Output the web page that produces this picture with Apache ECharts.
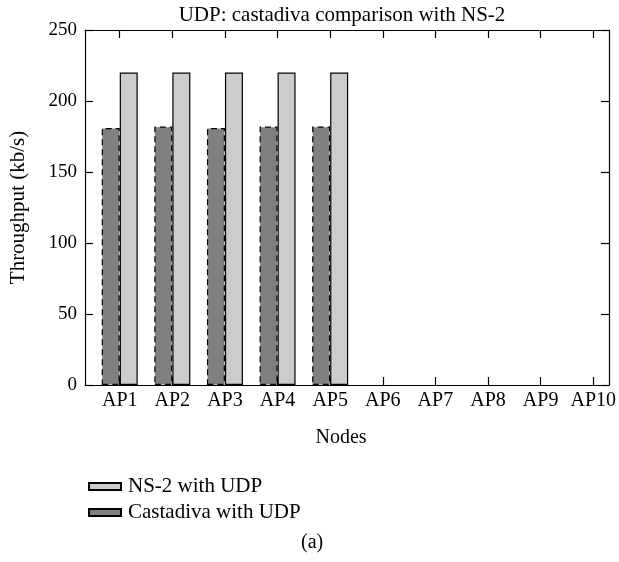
<!DOCTYPE html>
<html>
<head>
<meta charset="utf-8">
<script src="https://cdn.jsdelivr.net/npm/echarts@6/dist/echarts.min.js"></script>
<style>html,body{margin:0;padding:0;background:#fff;}#c{width:619px;height:562px;}</style>
</head>
<body>
<div id="c"></div>
<script>
var categories = ['AP1','AP2','AP3','AP4','AP5','AP6','AP7','AP8','AP9','AP10'];
var castadivaUDP = [181, 182, 181, 182, 182, null, null, null, null, null];
var ns2UDP = [220, 220, 220, 220, 220, null, null, null, null, null];
var yTicks = [0, 50, 100, 150, 200, 250];

var FONT = '"Liberation Serif", "DejaVu Serif", serif';
var positions = categories.map(function(c, i){ return i; });

function xAx(pos, showLabel){
  return {
    type: 'value', position: pos, min: -0.66, max: 9.3,
    axisLine: {show: true, onZero: false, lineStyle: {color: '#000', width: 1.2}},
    axisTick: {show: true, inside: true, length: 8, customValues: positions, lineStyle: {color: '#000', width: 1.2}},
    axisLabel: {show: showLabel, customValues: positions, color: '#000', fontFamily: FONT, fontSize: 20, margin: 6,
      formatter: function(v){ return categories[Math.round(v)]; }},
    splitLine: {show: false},
    name: showLabel ? 'Nodes' : '', nameLocation: 'middle', nameGap: 43,
    nameTextStyle: {color: '#000', fontFamily: FONT, fontSize: 20, padding: [0, 12, 0, 0]}
  };
}
function yAx(pos, showLabel){
  return {
    type: 'value', position: pos, min: yTicks[0], max: yTicks[yTicks.length-1], interval: 50,
    axisLine: {show: true, onZero: false, lineStyle: {color: '#000', width: 1.2}},
    axisTick: {show: true, inside: true, length: 8, lineStyle: {color: '#000', width: 1.2}},
    axisLabel: {show: showLabel, color: '#000', fontFamily: FONT, fontSize: 19, margin: 8},
    splitLine: {show: false},
    name: showLabel ? 'Throughput (kb/s)' : '', nameLocation: 'middle', nameGap: 56,
    nameTextStyle: {color: '#000', fontFamily: FONT, fontSize: 21}
  };
}

var chart = echarts.init(document.getElementById('c'), null, {renderer: 'canvas'});
chart.setOption({
  animation: false,
  backgroundColor: '#fff',
  title: {text: 'UDP: castadiva comparison with NS-2', left: 337, top: 0, textAlign: 'center',
    textStyle: {color: '#000', fontFamily: FONT, fontSize: 21, fontWeight: 'normal'}},
  grid: {left: 85, right: 6, top: 30, bottom: 177, containLabel: false},
  xAxis: [xAx('bottom', true), xAx('top', false)],
  yAxis: [yAx('left', true), yAx('right', false)],
  legend: {
    orient: 'vertical', left: 83, top: 471, itemWidth: 32, itemHeight: 7, itemGap: 5,
    icon: 'rect',
    data: ['NS-2 with UDP', 'Castadiva with UDP'],
    textStyle: {color: '#000', fontFamily: FONT, fontSize: 21, padding: [0,0,0,2]}
  },
  series: [
    {name: 'Castadiva with UDP', type: 'bar', xAxisIndex: 0, yAxisIndex: 0, barWidth: 18, barGap: '0%',
      data: positions.map(function(p, i){ return [p, castadivaUDP[i]]; }),
      itemStyle: {color: '#808080', borderColor: '#000', borderWidth: 1.2, borderType: [6, 4]}},
    {name: 'NS-2 with UDP', type: 'bar', xAxisIndex: 0, yAxisIndex: 0, barWidth: 18, barGap: '0%',
      data: positions.map(function(p, i){ return [p, ns2UDP[i]]; }),
      itemStyle: {color: '#cccccc', borderColor: '#000', borderWidth: 1.2}}
  ],
  graphic: [{type: 'text', left: 301, top: 533, style: {text: '(a)', fill: '#000', font: '20px ' + FONT}}]
});
</script>
</body>
</html>
